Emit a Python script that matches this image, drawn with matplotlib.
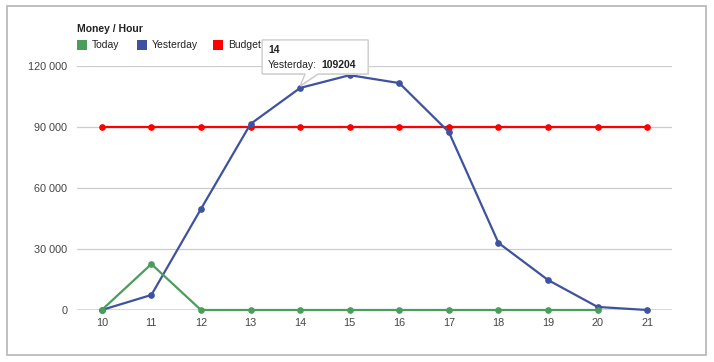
import matplotlib
matplotlib.use("Agg")
import matplotlib.pyplot as plt
import matplotlib.patches as mpatches
import matplotlib.transforms as mtransforms
import numpy as np

plt.rcParams['font.family'] = ['Liberation Sans', 'DejaVu Sans']

#%% data
hours = [10, 11, 12, 13, 14, 15, 16, 17, 18, 19, 20, 21]
today = [0, 22600, 0, 0, 0, 0, 0, 0, 0, 0, 0, np.nan]
yesterday = [0, 7400, 49700, 91500, 109204, 115500, 111600, 87500, 33000, 14750, 1500, 0]
budget = [90000] * 12
y_ticks = [0, 30000, 60000, 90000, 120000]
y_tick_labels = ['0', '30 000', '60 000', '90 000', '120 000']
series_names = ['Today', 'Yesterday', 'Budget']
tooltip_hour = 14

#%% styles
c_today = '#4a9d5b'
c_yest = '#3f52a0'
c_budget = '#ff0000'
W, H = 714, 362

fig = plt.figure(figsize=(W / 100, H / 100), dpi=100)
ax = fig.add_axes([77 / W, 1 - 310 / H, (672 - 77) / W, (310 - 66) / H])

# outer border
fig.patches.append(mpatches.Rectangle((7 / W, 1 - 355 / H), (706 - 7) / W, (355 - 6) / H,
                                      transform=fig.transFigure, fill=False,
                                      ec='#b5b5b5', lw=1.2))

for v in y_ticks[1:]:
    ax.axhline(v, color='#cccccc', lw=0.9, zorder=0)
ax.axhline(0, color='#333333', lw=1.0, zorder=1)

ax.plot(hours, budget, color=c_budget, lw=1.6, marker='o', ms=3.8, zorder=3, clip_on=False)
ax.plot(hours, yesterday, color=c_yest, lw=1.6, marker='o', ms=3.8, zorder=4, clip_on=False)
ax.plot(hours, today, color=c_today, lw=1.6, marker='o', ms=3.8, zorder=5, clip_on=False)

ax.set_xlim(9.5, 21.5)
ax.set_ylim(0, 120000)
ax.set_yticks(y_ticks)
ax.set_yticklabels(y_tick_labels)
ax.set_xticks(hours)
ax.set_xticklabels([str(h) for h in hours])
ax.tick_params(length=0, labelsize=7.8, labelcolor='#444444')
ax.tick_params(axis='y', pad=7)
ax.tick_params(axis='x', pad=6)
for s in ax.spines.values():
    s.set_visible(False)

# legend
fig.text(77 / W, 1 - 29 / H, 'Money / Hour', fontsize=7.5, fontweight='bold',
         color='#222222', va='center', ha='left')
leg_x = [77, 137, 213]
for name, col, x in zip(series_names, [c_today, c_yest, c_budget], leg_x):
    fig.patches.append(mpatches.Rectangle((x / W, 1 - 50 / H), 10 / W, 10 / H,
                                          transform=fig.transFigure, fc=col, ec='none'))
    fig.text((x + 15) / W, 1 - 45 / H, name, fontsize=7.5, color='#222222',
             va='center', ha='left')

# tooltip
i = hours.index(tooltip_hour)
px, py = ax.transData.transform((hours[i], yesterday[i]))
tr = mtransforms.Affine2D().translate(px, py)
shadow = mpatches.Polygon([(-37, 13), (5, 13), (1, 1), (18, 13), (69, 13), (69, 47), (-37, 47)],
                          closed=True, transform=tr, fc='#e8e8e8', ec='none', zorder=9)
box = mpatches.Polygon([(-38, 14), (5, 14), (0, 2), (18, 14), (68, 14), (68, 48), (-38, 48)],
                       closed=True, transform=tr, fc='white', ec='#c8c8c8', lw=0.9, zorder=10)
fig.patches.append(shadow)
fig.patches.append(box)
fig.text(0, 0, str(hours[i]), transform=tr + mtransforms.Affine2D().translate(-32, 38),
         fontsize=7.5, fontweight='bold', color='#222222', va='center', ha='left', zorder=11)
t1 = fig.text(0, 0, 'Yesterday:', transform=tr + mtransforms.Affine2D().translate(-32, 23),
              fontsize=7.5, color='#222222', va='center', ha='left', zorder=11)
fig.canvas.draw()
ext = t1.get_window_extent()
fig.text(0, 0, str(yesterday[i]),
         transform=mtransforms.Affine2D().translate(ext.x1 + 4, py + 23),
         fontsize=7.5, fontweight='bold', color='#222222', va='center', ha='left', zorder=11)

fig.savefig('out.png', dpi=100)
